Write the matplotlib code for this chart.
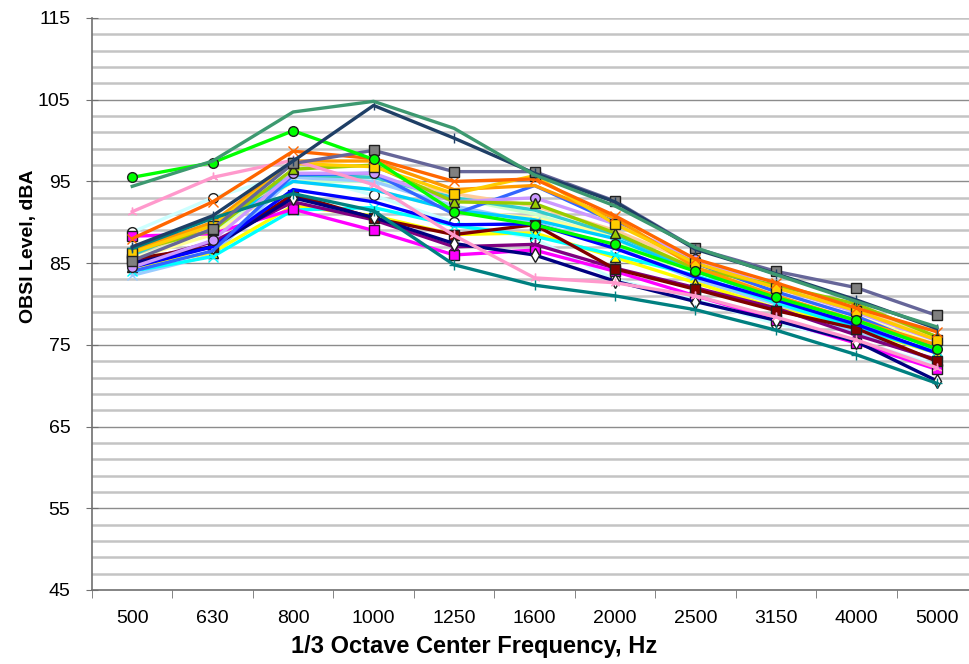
import matplotlib
matplotlib.use("Agg")
import matplotlib.pyplot as plt
from matplotlib.ticker import FixedLocator

plt.rcParams["font.family"] = ["Liberation Sans", "DejaVu Sans"]

freqs = ["500", "630", "800", "1000", "1250", "1600", "2000", "2500", "3150", "4000", "5000"]

# OBSI levels (dBA) per tire / pavement run
sea_green  = [94.4, 97.5, 103.5, 104.8, 101.5, 95.8, 92.0, 86.9, 83.6, 80.3, 77.2]
dark_slate = [87.0, 90.8, 97.5, 104.3, 100.3, 96.0, 92.5, 86.7, 83.7, 80.5, 77.0]
lime       = [95.5, 97.3, 101.2, 97.7, 91.3, 89.7, 87.3, 84.0, 80.8, 78.0, 74.5]
rose       = [91.3, 95.5, 97.6, 94.6, 88.4, 83.2, 82.6, 81.0, 78.4, 75.6, 72.2]
orange     = [88.0, 92.5, 98.7, 97.8, 95.0, 95.3, 90.8, 85.5, 82.6, 79.5, 76.6]
blue_gray  = [85.3, 89.2, 97.2, 98.8, 96.2, 96.2, 92.6, 86.8, 84.0, 82.0, 78.6]
gold       = [86.3, 89.6, 97.2, 96.8, 93.5, 95.7, 89.8, 85.0, 82.0, 79.2, 75.6]
teal       = [86.8, 90.5, 93.5, 91.4, 84.8, 82.3, 81.0, 79.3, 76.8, 73.8, 70.3]
navy       = [85.0, 87.0, 93.0, 90.6, 87.4, 86.0, 82.8, 80.3, 78.0, 75.4, 70.6]
magenta    = [88.3, 88.6, 91.6, 89.0, 86.0, 86.6, 84.0, 81.0, 78.1, 75.2, 72.0]
maroon     = [85.5, 87.0, 93.4, 90.5, 88.5, 89.7, 84.3, 81.8, 79.2, 77.0, 73.0]
purple     = [85.0, 87.6, 92.5, 90.3, 87.0, 87.3, 84.4, 82.0, 79.5, 76.2, 73.2]
cyan       = [84.0, 85.8, 91.5, 91.8, 89.6, 88.3, 86.0, 83.5, 80.2, 77.0, 74.2]
blue       = [84.5, 87.0, 94.0, 92.5, 89.7, 89.8, 86.8, 83.3, 80.5, 77.5, 74.0]
yellow     = [84.5, 86.3, 92.0, 90.8, 88.5, 88.7, 85.7, 82.6, 79.5, 77.0, 74.0]
lavender   = [84.5, 87.8, 96.0, 96.0, 92.5, 93.0, 89.8, 85.5, 82.0, 79.0, 75.5]
yellow_grn = [86.5, 89.0, 96.5, 97.0, 92.5, 92.3, 88.7, 84.3, 82.3, 80.0, 76.0]
mid_blue   = [84.0, 86.5, 95.8, 96.0, 91.0, 94.5, 90.0, 85.0, 81.5, 78.5, 74.5]
sky_blue   = [86.8, 89.7, 95.0, 94.0, 91.5, 90.3, 88.0, 84.0, 80.7, 77.3, 74.0]
pale_cyan  = [88.8, 93.0, 96.0, 93.3, 90.0, 88.0, 83.0, 80.5, 77.6, 75.5, 72.5]
pale_green = [86.0, 89.0, 95.0, 95.0, 93.0, 91.0, 88.0, 83.0, 80.0, 77.0, 74.0]
tan        = [86.0, 89.5, 95.5, 95.5, 93.5, 92.0, 89.0, 85.0, 82.0, 79.5, 76.0]
pale_yel   = [85.5, 88.5, 95.0, 94.0, 91.5, 90.5, 88.5, 84.5, 81.5, 78.5, 75.0]
lt_orange  = [86.5, 90.0, 97.5, 97.5, 94.0, 94.5, 90.5, 84.5, 81.0, 78.0, 75.0]
pale_blue  = [83.5, 86.0, 95.5, 95.0, 92.0, 90.0, 87.0, 83.0, 80.0, 76.5, 73.0]
turquoise  = [86.0, 90.0, 95.8, 95.5, 93.0, 91.5, 88.5, 84.2, 81.0, 77.8, 74.6]

# (values, line colour, marker, marker face)
series = [
    (pale_cyan,  "#CCFFFF", "o",  "white"),
    (pale_green, "#CCFFCC", None, None),
    (pale_yel,   "#FFFF99", None, None),
    (tan,        "#FFCC99", None, None),
    (pale_blue,  "#99CCFF", "x",  None),
    (yellow,     "#FFFF00", "^",  "#FFFF00"),
    (cyan,       "#00FFFF", "x",  None),
    (sky_blue,   "#00CCFF", None, None),
    (turquoise,  "#33CCCC", None, None),
    (magenta,    "#FF00FF", "s",  "#FF00FF"),
    (purple,     "#800080", (3, 2, 0), None),
    (maroon,     "#800000", "s",  "#800000"),
    (navy,       "#000080", "d",  "white"),
    (blue,       "#0000FF", None, None),
    (mid_blue,   "#3366FF", None, None),
    (lavender,   "#CC99FF", "o",  "#CC99FF"),
    (yellow_grn, "#99CC00", "^",  "#99CC00"),
    (lt_orange,  "#FF9900", None, None),
    (gold,       "#FFCC00", "s",  "#FFCC00"),
    (rose,       "#FF99CC", (3, 2, 0), None),
    (teal,       "#008080", "+",  None),
    (orange,     "#FF6600", "x",  None),
    (blue_gray,  "#666699", "s",  "#808080"),
    (lime,       "#00FF00", "o",  "#00FF00"),
    (dark_slate, "#1F3F66", "|",  None),
    (sea_green,  "#3D9970", None, None),
]

fig = plt.figure(figsize=(9.69, 6.64), dpi=100)
ax = fig.add_axes([92 / 969, 1 - 590 / 664, 885 / 969, 572 / 664])

x = list(range(len(freqs)))
for vals, col, mk, face in series:
    kw = dict(color=col, lw=2.4, solid_joinstyle="round")
    if mk is not None:
        kw.update(marker=mk, markersize=7, markeredgewidth=1.0,
                  markeredgecolor="#202020" if face is not None else col)
        if face is not None:
            kw["markerfacecolor"] = face
    ax.plot(x, vals, **kw)

ax.set_xlim(-0.5, len(freqs) - 0.5)
ax.set_ylim(45, 115)

ax.set_yticks([45, 55, 65, 75, 85, 95, 105, 115])
ax.yaxis.set_minor_locator(FixedLocator([v for v in range(47, 115, 2)]))
ax.grid(axis="y", which="minor", color="#C4C4C4", lw=1.8, zorder=0)
ax.set_axisbelow(True)
for yv in [105, 95, 85, 75, 65, 55]:
    ax.axhline(yv, color="#8C8C8C", lw=1.0, zorder=0.5)
ax.axhline(115, color="#C4C4C4", lw=1.8, zorder=0.5)

ax.set_xticks(x)
ax.set_xticklabels(freqs)
ax.xaxis.set_minor_locator(FixedLocator([i - 0.5 for i in range(len(freqs) + 1)]))
ax.tick_params(axis="x", which="major", length=0, labelsize=14, pad=14.5)
ax.tick_params(axis="x", which="minor", length=6, color="#707070", direction="out")
ax.tick_params(axis="y", which="major", length=8, color="#707070", labelsize=14, pad=11.5,
               direction="inout")
ax.tick_params(axis="y", which="minor", length=0)

for s in ["top", "right"]:
    ax.spines[s].set_visible(False)
for s in ["left", "bottom"]:
    ax.spines[s].set_color("#707070")
    ax.spines[s].set_linewidth(1.2)

ax.set_xlabel("1/3 Octave Center Frequency, Hz", fontsize=17, fontweight="bold")
ax.xaxis.set_label_coords((474 - 92) / 885, -0.078)
ax.set_ylabel("OBSI Level, dBA", fontsize=14, fontweight="bold")
ax.yaxis.set_label_coords(-0.062, (590 - 246) / 572)

fig.savefig("out.png", dpi=100)
